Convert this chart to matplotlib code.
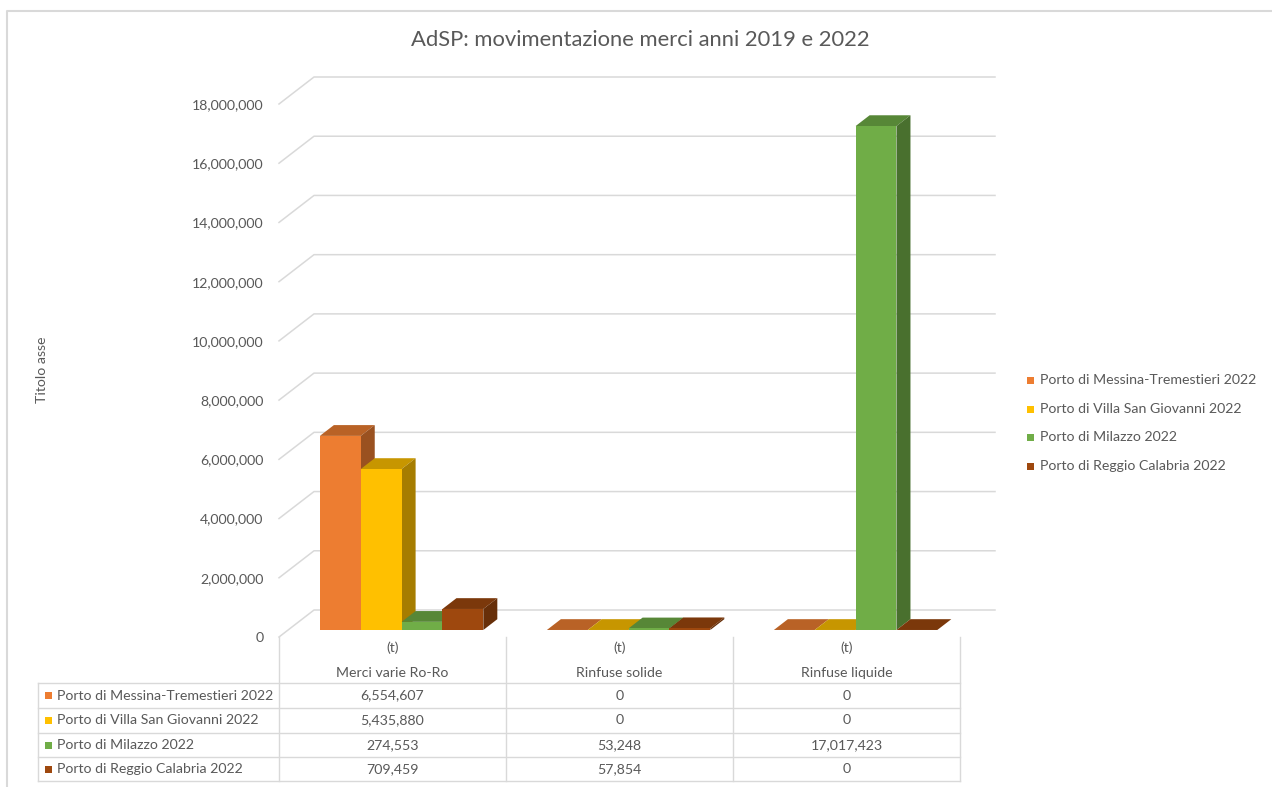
import numpy as np
import matplotlib.pyplot as plt
from matplotlib.patches import Polygon, Rectangle
from matplotlib.colors import to_rgb

plt.rcParams['font.family'] = ['Lato', 'DejaVu Sans']

# data
categories = ['Merci varie Ro-Ro', 'Rinfuse solide', 'Rinfuse liquide']
units = ['(t)', '(t)', '(t)']
series = ['Porto di Messina-Tremestieri 2022', 'Porto di Villa San Giovanni 2022',
          'Porto di Milazzo 2022', 'Porto di Reggio Calabria 2022']
messina = [6554607, 0, 0]
villa = [5435880, 0, 0]
milazzo = [274553, 53248, 17017423]
reggio = [709459, 57854, 0]
colors = ['#ED7D31', '#FFC000', '#70AD47', '#9E480E']
y_ticks = list(range(0, 18000001, 2000000))
title = 'AdSP: movimentazione merci anni 2019 e 2022'

values = [messina, villa, milazzo, reggio]
W, H = 1272, 787
txt = '#595959'
grid = '#D9D9D9'
fs = 10.2

fig = plt.figure(figsize=(W / 100, H / 100), dpi=100)

# overlay in pixel coords for the table, legend and border
ov = fig.add_axes([0, 0, 1, 1])
ov.set_xlim(0, W)
ov.set_ylim(H, 0)
ov.axis('off')

# front plane of the 3D plot
left, right, base, top = 279, 960, 637, 104
ax = fig.add_axes([left / W, 1 - base / H, (right - left) / W, (base - top) / H])
ax.set_xlim(-0.5, 2.5)
ax.set_ylim(0, 18000000)
ax.patch.set_alpha(0)
for s in ax.spines.values():
    s.set_visible(False)
ax.set_xticks([])
ax.set_yticks(y_ticks)
ax.set_yticklabels([f'{v:,}' for v in y_ticks])
ax.tick_params(axis='y', length=0, pad=11, labelsize=fs, labelcolor=txt)

# oblique depth offset (full depth of the box)
col_w = (right - left) / 3
DX = 35 / col_w
DY = 27 / ((base - top) / 18000000)


def proj(x, v, d):
    return x + d * DX, v + d * DY


# walls: gridlines on side and back
for v in y_ticks:
    x0, y0 = proj(-0.5, v, 0)
    x1, y1 = proj(-0.5, v, 1)
    x2, y2 = proj(2.5, v, 1)
    ax.plot([x0, x1, x2], [y0, y1, y2], color=grid, lw=1.1, clip_on=False, zorder=1)

# 3D columns
d0, d1 = 0.26, 0.66
bw = 0.18
z = 3
for i in range(len(categories)):
    for j, vals in enumerate(values):
        v = vals[i]
        c = np.array(to_rgb(colors[j]))
        xl = i - 2 * bw + j * bw
        xr = xl + bw
        top_face = [proj(xl, v, d0), proj(xr, v, d0), proj(xr, v, d1), proj(xl, v, d1)]
        side_face = [proj(xr, 0, d0), proj(xr, v, d0), proj(xr, v, d1), proj(xr, 0, d1)]
        ax.add_patch(Polygon(top_face, closed=True, facecolor=c * 0.78, lw=0, zorder=z, clip_on=False))
        ax.add_patch(Polygon(side_face, closed=True, facecolor=c * 0.65, lw=0, zorder=z, clip_on=False))
        ax.bar(xl + d0 * DX, v, width=bw, bottom=d0 * DY, align='edge', color=c,
               lw=0, zorder=z + 0.5, clip_on=False)
        z += 1

# title and axis title
fig.text(640 / W, 1 - 40 / H, title, ha='center', va='center', fontsize=15.8, color=txt)
fig.text(42 / W, 1 - 370 / H, 'Titolo asse', ha='center', va='center', rotation=90,
         fontsize=fs, color=txt)

# data table
cols = [left + k * col_w for k in range(4)]
rows = [683, 708, 733, 757, 781]
for xc in cols:
    ov.plot([xc, xc], [base, rows[-1]], color=grid, lw=1)
ov.plot([38, 38], [rows[0], rows[-1]], color=grid, lw=1)
for yr in rows:
    ov.plot([38, cols[-1]], [yr, yr], color=grid, lw=1)
for i in range(len(categories)):
    xc = cols[i] + col_w / 2
    ov.text(xc, 648, units[i], ha='center', va='center', fontsize=fs, color=txt)
    ov.text(xc, 673, categories[i], ha='center', va='center', fontsize=fs, color=txt)
for j, name in enumerate(series):
    yc = (rows[j] + rows[j + 1]) / 2
    ov.add_patch(Rectangle((45, yc - 3.5), 7, 7, facecolor=colors[j], lw=0))
    ov.text(57, yc, name, ha='left', va='center', fontsize=fs, color=txt)
    for i in range(len(categories)):
        ov.text(cols[i] + col_w / 2, yc, f'{values[j][i]:,}', ha='center', va='center',
                fontsize=fs, color=txt)

# legend
for j, name in enumerate(series):
    yc = [380, 409, 437, 466][j]
    ov.add_patch(Rectangle((1027, yc - 3.5), 7, 7, facecolor=colors[j], lw=0))
    ov.text(1040, yc, name, ha='left', va='center', fontsize=fs, color=txt)

# chart area border
ov.plot([7, 7, W], [H, 11, 11], color=grid, lw=1.5)

fig.savefig('out.png', dpi=100)
